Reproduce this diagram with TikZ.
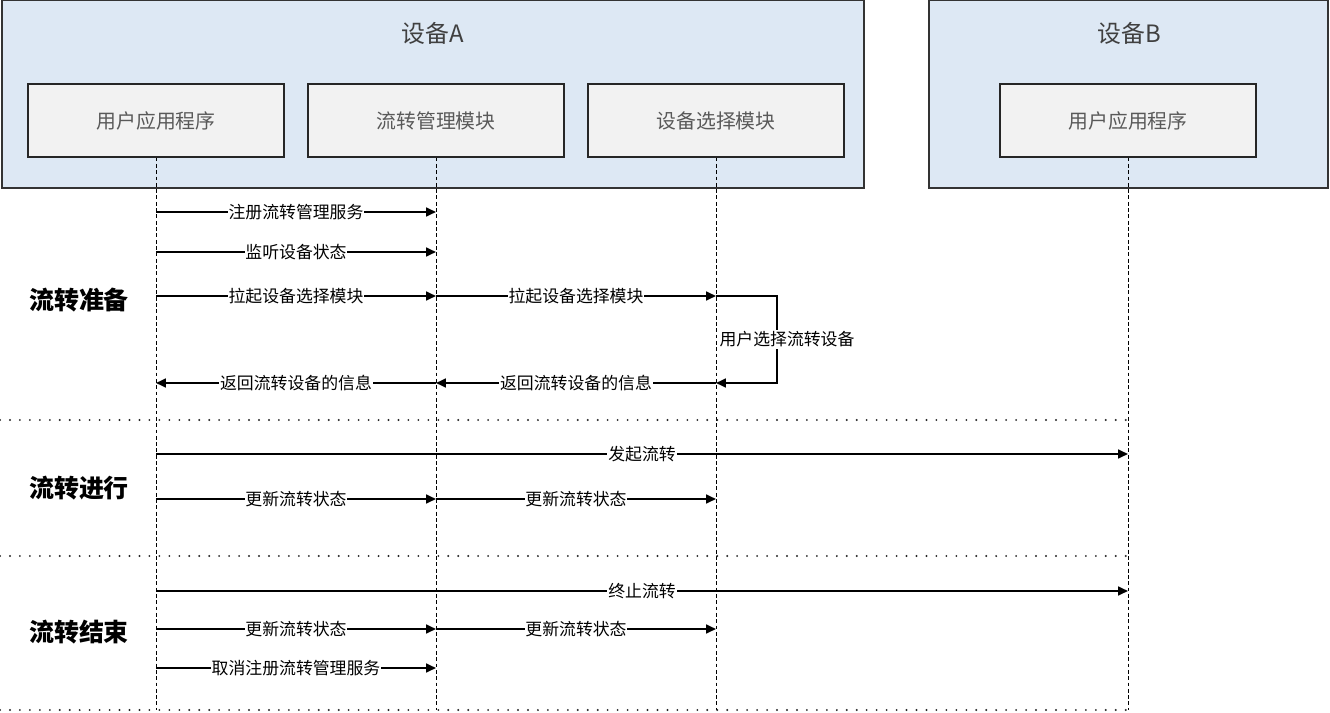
\documentclass[tikz,border=0pt]{standalone}
\usepackage{fontspec}
\setmainfont{Noto Sans CJK SC}
\usetikzlibrary{arrows.meta}
\definecolor{devfill}{HTML}{DDE8F4}
\definecolor{modfill}{HTML}{F2F2F2}
\definecolor{modtext}{HTML}{595959}
\tikzset{
  device/.style={draw=black!80, line width=0.6pt, fill=devfill},
  module/.style={draw=black!85, line width=0.6pt, fill=modfill, minimum width=256*0.02cm, minimum height=73*0.02cm, text=modtext, font=\fontsize{11.3}{13}\selectfont},
  devtitle/.style={text=black!75, font=\fontsize{13.6}{16}\selectfont},
  phase/.style={font=\fontsize{14.2}{17}\selectfont\bfseries},
  lifeline/.style={line width=0.5pt, dash pattern=on 2.2pt off 1.4pt},
  sep/.style={line width=1.2pt, dash pattern=on 0pt off 5.67pt, line cap=round, black!85},
  msg/.style={line width=1.1pt, -{Triangle[length=5.6pt,width=5pt]}},
  lbl/.style={fill=white, inner sep=0.5pt, font=\fontsize{9.6}{11}\selectfont}
}
\begin{document}
\begin{tikzpicture}[x=0.02cm, y=-0.02cm]
\useasboundingbox (0,0) rectangle (1330,713);
\draw[device] (2,0) rectangle (864,188);
\draw[device] (929,0) rectangle (1328,188);
\node[devtitle] (titleA) at (433,33) {设备A};
\node[devtitle] (titleB) at (1129,33) {设备B};

\node[module] (appA) at (156,120.5) {用户应用程序};
\node[module] (flow) at (436,120.5) {流转管理模块};
\node[module] (pick) at (716,120.5) {设备选择模块};
\node[module] (appB) at (1128,120.5) {用户应用程序};

\coordinate (bottom) at (0,710);
\draw[lifeline] (appA.south) -- (appA.south |- bottom);
\draw[lifeline] (flow.south) -- (flow.south |- bottom);
\draw[lifeline] (pick.south) -- (pick.south |- bottom);
\draw[lifeline] (appB.south) -- (appB.south |- bottom);

\coordinate (s1) at (0,420);
\coordinate (s2) at (0,556);
\coordinate (s3) at (0,710);
\draw[sep] (0,420) -- (appB.south |- s1);
\draw[sep] (0,556) -- (appB.south |- s2);
\draw[sep] (0,710) -- (appB.south |- s3);

\node[phase] (prep) at (79,300) {流转准备};
\node[phase] (run) at (79,488) {流转进行};
\node[phase] (stop) at (79,632) {流转结束};

\coordinate (r1) at (0,212);
\coordinate (r2) at (0,252);
\coordinate (r3) at (0,296);
\coordinate (r4) at (0,383);
\coordinate (r5) at (0,454);
\coordinate (r6) at (0,499);
\coordinate (r7) at (0,591);
\coordinate (r8) at (0,629);
\coordinate (r9) at (0,668);
\coordinate (loop) at (777,0);

\draw[msg] (appA |- r1) -- node[lbl] {注册流转管理服务} (flow |- r1);
\draw[msg] (appA |- r2) -- node[lbl] {监听设备状态} (flow |- r2);
\draw[msg] (appA |- r3) -- node[lbl] {拉起设备选择模块} (flow |- r3);
\draw[msg] (flow |- r3) -- node[lbl] {拉起设备选择模块} (pick |- r3);
\draw[msg] (pick |- r3) -- (loop |- r3) -- node[lbl, inner sep=1pt, xshift=0.2cm] {用户选择流转设备} (loop |- r4) -- (pick |- r4);
\draw[msg] (pick |- r4) -- node[lbl] {返回流转设备的信息} (flow |- r4);
\draw[msg] (flow |- r4) -- node[lbl] {返回流转设备的信息} (appA |- r4);

\draw[msg] (appA |- r5) -- node[lbl] {发起流转} (appB |- r5);
\draw[msg] (appA |- r6) -- node[lbl] {更新流转状态} (flow |- r6);
\draw[msg] (flow |- r6) -- node[lbl] {更新流转状态} (pick |- r6);

\draw[msg] (appA |- r7) -- node[lbl] {终止流转} (appB |- r7);
\draw[msg] (appA |- r8) -- node[lbl] {更新流转状态} (flow |- r8);
\draw[msg] (flow |- r8) -- node[lbl] {更新流转状态} (pick |- r8);
\draw[msg] (appA |- r9) -- node[lbl] {取消注册流转管理服务} (flow |- r9);
\end{tikzpicture}
\end{document}
